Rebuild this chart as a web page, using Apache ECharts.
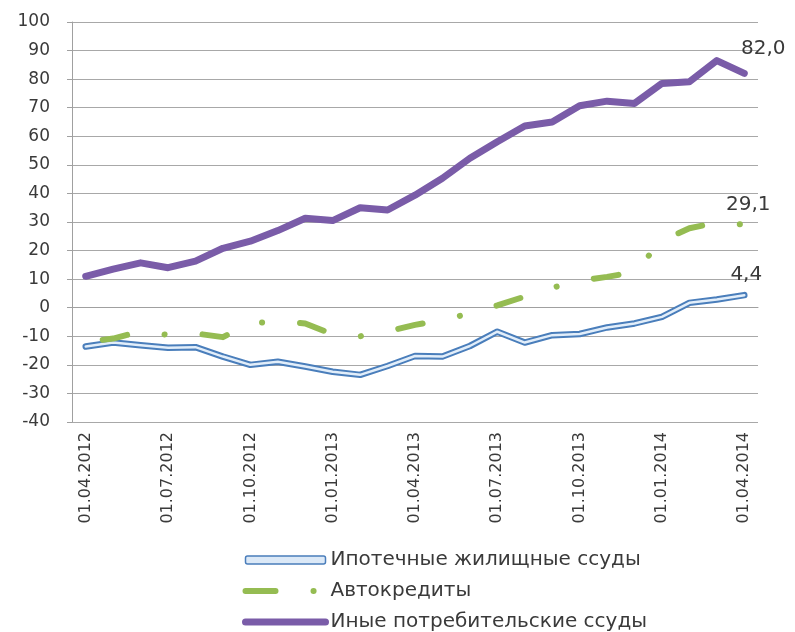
<!DOCTYPE html>
<html>
<head>
<meta charset="utf-8">
<script src="https://cdn.jsdelivr.net/npm/echarts@6/dist/echarts.min.js"></script>
<style>
  html, body { margin: 0; padding: 0; background: #fff; }
  #chart { width: 795px; height: 632px; }
</style>
</head>
<body>
<div id="chart"></div>
<script>
// месяцы, 01.04.2012 - 01.04.2014
const months = [
  '01.04.2012','01.05.2012','01.06.2012','01.07.2012','01.08.2012','01.09.2012',
  '01.10.2012','01.11.2012','01.12.2012','01.01.2013','01.02.2013','01.03.2013',
  '01.04.2013','01.05.2013','01.06.2013','01.07.2013','01.08.2013','01.09.2013',
  '01.10.2013','01.11.2013','01.12.2013','01.01.2014','01.02.2014','01.03.2014',
  '01.04.2014'
];
const mortgage = [-13.6, -12.2, -13.1, -14.0, -13.8, -17.1, -20.0, -18.9, -20.6, -22.4, -23.5, -20.4,
  -16.9, -17.1, -13.4, -8.4, -12.2, -9.6, -9.2, -6.9, -5.5, -3.2, 1.7, 2.9, 4.4];
const autoLoans = [-12.0, -10.8, -8.3, -9.5, -9.0, -10.3, -5.5, -4.8, -5.5, -9.3, -10.0, -8.3,
  -6.0, -4.3, -2.0, 0.8, 3.9, 7.0, 9.5, 10.8, 12.5, 23.5, 27.8, 29.8, 29.1];
const otherLoans = [11.0, 13.5, 15.7, 14.0, 16.3, 20.8, 23.3, 27.0, 31.3, 30.5, 35.0, 34.2,
  39.4, 45.3, 52.3, 58.1, 63.6, 65.0, 70.7, 72.3, 71.5, 78.5, 79.1, 86.5, 82.0];
const names = ['Ипотечные жилищные ссуды', 'Автокредиты', 'Иные потребительские ссуды'];

const FONT = 'DejaVu Sans';
const textColor = '#3a3a3a';
const blue = '#4a7ebb', green = '#95bc52', purple = '#7a5ca8';

// подпись только у последней точки (невидимый символ, чтобы label рисовался)
function lastLabel(arr, offset) {
  return arr.map((v, i) => i === arr.length - 1
    ? { value: v, symbol: 'circle', symbolSize: 0,
        label: { show: true, position: 'top', distance: 0, offset: offset,
          formatter: (p) => p.value.toFixed(1).replace('.', ','),
          fontFamily: FONT, fontSize: 20, color: textColor } }
    : v);
}

const chart = echarts.init(document.getElementById('chart'), null, { renderer: 'canvas' });
chart.setOption({
  animation: false,
  backgroundColor: '#fff',
  grid: { left: 72, right: 37, top: 22, bottom: 210 },
  xAxis: {
    type: 'category',
    data: months,
    boundaryGap: true,
    axisLine: { lineStyle: { color: '#a0a0a0', width: 1 } },
    axisTick: { show: false },
    axisLabel: { interval: 2, rotate: 90, margin: 10, fontFamily: FONT, fontSize: 16, color: textColor }
  },
  yAxis: {
    type: 'value',
    min: -40, max: 100, interval: 10,
    axisLine: { show: true, lineStyle: { color: '#a0a0a0', width: 1 } },
    axisTick: { show: true, length: 5, lineStyle: { color: '#a0a0a0' } },
    splitLine: { lineStyle: { color: '#a8a8a8', width: 1 } },
    axisLabel: { margin: 22, fontFamily: FONT, fontSize: 17, color: textColor }
  },
  legend: {
    orient: 'vertical',
    left: 242, top: 550, height: 100, padding: 0,
    itemWidth: 80, itemHeight: 8, itemGap: 11,
    textStyle: { fontFamily: FONT, fontSize: 20, color: textColor },
    data: [
      { name: names[0], icon: 'roundRect',
        itemStyle: { color: '#dce9f7', borderColor: blue, borderWidth: 1.5 } },
      { name: names[1],
        itemStyle: { color: 'rgba(0,0,0,0)', borderWidth: 0 },
        lineStyle: { color: green, width: 6, type: [30, 38, 0.1, 40], dashOffset: 0, cap: 'round' } },
      { name: names[2],
        itemStyle: { color: 'rgba(0,0,0,0)', borderWidth: 0 },
        lineStyle: { color: purple, width: 7, type: 'solid', cap: 'round' } }
    ]
  },
  series: [
    {
      name: names[0], type: 'line', data: lastLabel(mortgage, [2, -10]),
      symbol: 'none', z: 2,
      itemStyle: { color: blue },
      lineStyle: { color: blue, width: 6.5, cap: 'round', join: 'round' }
    },
    {
      name: 'inner', type: 'line', data: mortgage,
      symbol: 'none', z: 3, silent: true,
      lineStyle: { color: '#e2eefa', width: 2.5, cap: 'round', join: 'round' }
    },
    {
      name: names[1], type: 'line', data: lastLabel(autoLoans, [4, -10]),
      symbol: 'none', z: 4,
      itemStyle: { color: green },
      lineStyle: { color: green, width: 6, type: [25, 38, 0.1, 38], dashOffset: 84, cap: 'round', join: 'round' }
    },
    {
      name: names[2], type: 'line', data: lastLabel(otherLoans, [19, -15]),
      symbol: 'none', z: 5,
      itemStyle: { color: purple },
      lineStyle: { color: purple, width: 7, cap: 'round', join: 'round' }
    }
  ]
});
</script>
</body>
</html>
